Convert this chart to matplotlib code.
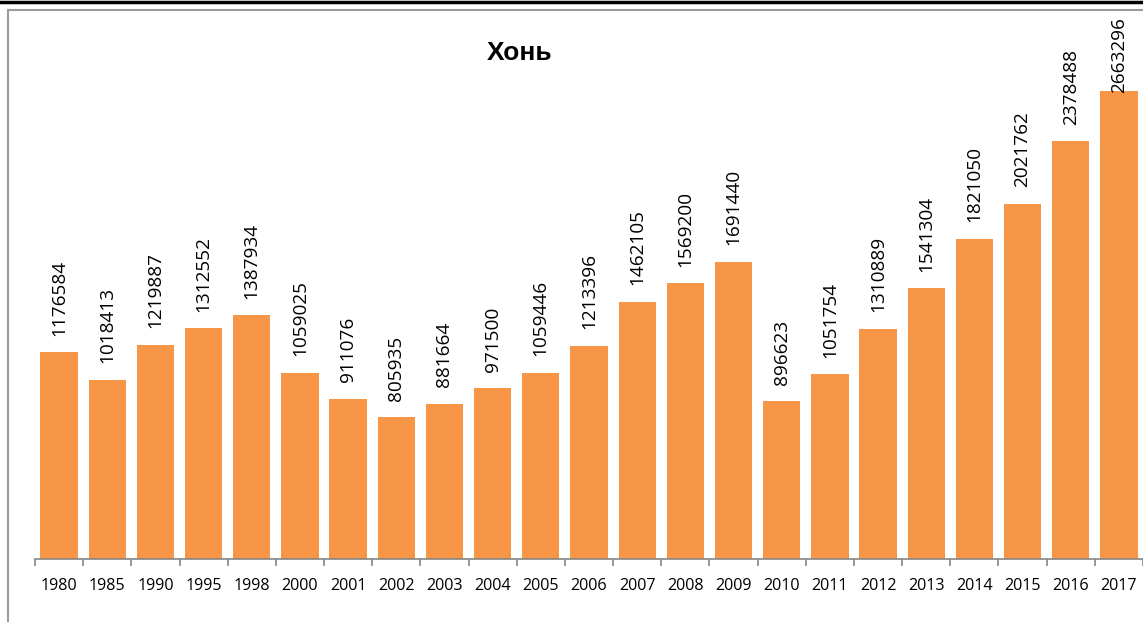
import matplotlib
matplotlib.use("Agg")
import matplotlib.pyplot as plt
from matplotlib.lines import Line2D
import numpy as np

years = ["1980", "1985", "1990", "1995", "1998", "2000", "2001", "2002", "2003", "2004",
         "2005", "2006", "2007", "2008", "2009", "2010", "2011", "2012", "2013", "2014",
         "2015", "2016", "2017"]
values = [1176584, 1018413, 1219887, 1312552, 1387934, 1059025, 911076, 805935, 881664,
          971500, 1059446, 1213396, 1462105, 1569200, 1691440, 896623, 1051754, 1310889,
          1541304, 1821050, 2021762, 2378488, 2663296]
title = "Хонь"

plt.rcParams['font.family'] = ['Open Sans', 'DejaVu Sans']

W, H = 1143, 622
fig = plt.figure(figsize=(W / 100, H / 100), dpi=100)

# axes: x from 35 to 1143 px, y baseline 559, top 32 px (0..3M)
ax = fig.add_axes([35 / W, 1 - 559 / H, (1143 - 35) / W, (559 - 32) / H])
x = np.arange(len(years))
ax.bar(x, values, width=0.775, color="#F79646", zorder=2)
ax.set_xlim(-0.5, len(years) - 0.5)
ax.set_ylim(0, 3000000)

label_fs = 13.7
gap_pt = 12.0
label_len_px = 76
for xi, v in zip(x, values):
    top_disp = ax.transData.transform((xi, v))[1] + gap_pt * 100 / 72 + label_len_px
    limit_disp = fig.bbox.height - 17
    if top_disp > limit_disp:
        ax.annotate(str(v), (xi, limit_disp), xycoords=("data", "figure pixels"),
                    rotation=90, ha="center", va="top", fontsize=label_fs, color="black")
    else:
        ax.annotate(str(v), (xi, v), xytext=(0, gap_pt), textcoords="offset points",
                    rotation=90, ha="center", va="bottom", fontsize=label_fs, color="black")

ax.set_xticks(x)
ax.set_xticklabels(years, fontsize=11.6)
ax.tick_params(axis="x", which="major", length=0, pad=13.5)
ax.set_xticks(np.arange(-0.5, len(years), 1.0), minor=True)
ax.tick_params(axis="x", which="minor", length=5, color="#868686", width=1.2)
ax.set_yticks([])
for s in ["top", "right", "left"]:
    ax.spines[s].set_visible(False)
ax.spines["bottom"].set_color("#868686")
ax.spines["bottom"].set_linewidth(1.2)

fig.text(520 / W, 1 - 53 / H, title, ha="center", va="center", fontsize=19,
         fontweight="bold", family=["Liberation Sans", "DejaVu Sans"])

# frame lines
fig.add_artist(Line2D([0, 1], [1 - 1.5 / H, 1 - 1.5 / H], color="black", lw=2.5, transform=fig.transFigure))
fig.add_artist(Line2D([8 / W, 1], [1 - 9.5 / H, 1 - 9.5 / H], color="#9a9a9a", lw=1.5, transform=fig.transFigure))
fig.add_artist(Line2D([8 / W, 8 / W], [0, 1 - 9.5 / H], color="#9a9a9a", lw=1.5, transform=fig.transFigure))

fig.savefig("out.png", dpi=100)
